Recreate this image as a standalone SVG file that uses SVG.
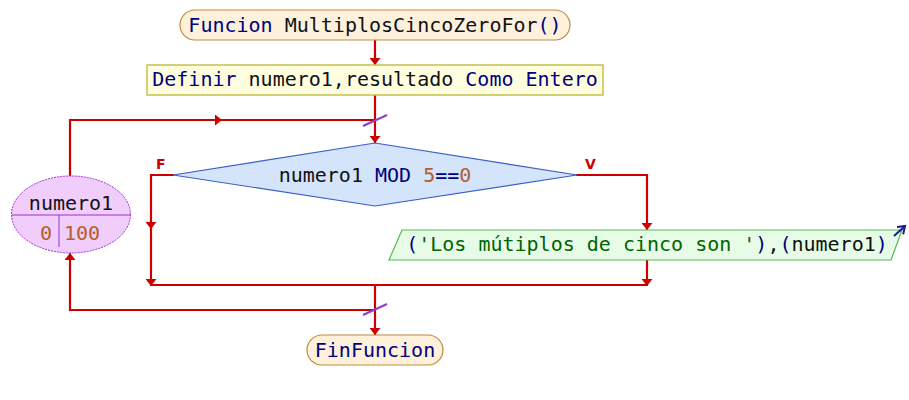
<svg xmlns="http://www.w3.org/2000/svg" width="909" height="400" viewBox="0 0 909 400">
<defs>
<marker id="ah" markerUnits="userSpaceOnUse" markerWidth="12" markerHeight="12" refX="7" refY="5.5" orient="auto">
<path d="M0,0 L7,5.5 L0,11 z" fill="#cc0000"/>
</marker>
<marker id="bh" markerUnits="userSpaceOnUse" markerWidth="10" markerHeight="12" refX="7" refY="5" orient="auto">
<path d="M0,0 L7,5 L0,10" fill="none" stroke="#1a1a8c" stroke-width="2"/>
</marker>
</defs>
<style>
text{font-family:"DejaVu Sans Mono","Liberation Mono",monospace;font-size:20px;fill:#111}
.kw{fill:#000080}
.num{fill:#b0602a}
.str{fill:#006400}
.lbl{font-family:"DejaVu Sans","Liberation Sans",sans-serif;font-size:14px;font-weight:bold;fill:#cc0000}
.c{fill:none;stroke:#cc0000;stroke-width:2.2}
.sl{stroke:#8a3fd0;stroke-width:2}
</style>
<rect width="909" height="400" fill="#fff"/>
<g id="connectors">
<path class="c" d="M375 40 V65" marker-end="url(#ah)"/>
<path class="c" d="M375 95 V143" marker-end="url(#ah)"/>
<path class="c" d="M70 176 V120 H222" marker-end="url(#ah)"/>
<path class="c" d="M214 120 H375"/>
<path class="c" d="M174 175 H151 V229" marker-end="url(#ah)"/>
<path class="c" d="M151 222 V286" marker-end="url(#ah)"/>
<path class="c" d="M576 175 H647 V230" marker-end="url(#ah)"/>
<path class="c" d="M647 260 V286" marker-end="url(#ah)"/>
<path class="c" d="M151 285 H647"/>
<path class="c" d="M375 285 V335" marker-end="url(#ah)"/>
<path class="c" d="M375 310 H70 V253" marker-end="url(#ah)"/>
<line class="sl" x1="363" y1="126" x2="387" y2="115"/>
<line class="sl" x1="363" y1="315" x2="387" y2="304"/>
<text class="lbl" x="156" y="169">F</text>
<text class="lbl" x="585" y="169">V</text>
</g>
<g id="start">
<rect x="180" y="10" width="390" height="30" rx="15" fill="#fdf1dc" stroke="#c08a40" stroke-width="1.2"/>
<text x="375" y="32" text-anchor="middle"><tspan class="kw">Funcion</tspan> MultiplosCincoZeroFor<tspan class="kw">()</tspan></text>
</g>
<g id="definir">
<rect x="147" y="65" width="456" height="30" fill="#ffffe0" stroke="#c8c050" stroke-width="1.5"/>
<text x="375" y="86" text-anchor="middle"><tspan class="kw">Definir</tspan> numero1,resultado <tspan class="kw">Como Entero</tspan></text>
</g>
<g id="loop">
<ellipse cx="71" cy="214.5" rx="59.5" ry="38.5" fill="#f0cdfa" stroke="#9933cc" stroke-width="1" stroke-dasharray="2,1"/>
<line x1="12" y1="215" x2="131" y2="215" stroke="#9933cc" stroke-width="1"/>
<line x1="59" y1="215" x2="59" y2="247" stroke="#9933cc" stroke-width="1"/>
<text x="71" y="210" text-anchor="middle">numero1</text>
<text x="52" y="240" text-anchor="end" class="num">0</text>
<text x="64" y="240" class="num">100</text>
</g>
<g id="decision">
<polygon points="375,143 577,175 375,206 173,175" fill="#d4e4fb" stroke="#3a5fc8" stroke-width="1.2"/>
<text x="375" y="182" text-anchor="middle">numero1 <tspan class="kw">MOD</tspan> <tspan class="num">5</tspan><tspan class="kw">==</tspan><tspan class="num">0</tspan></text>
</g>
<g id="output">
<polygon points="402,230 902,230 891,260 389,260" fill="#e6fce6" stroke="#55bb55" stroke-width="1.2"/>
<text x="647" y="251" text-anchor="middle"><tspan class="kw">(</tspan><tspan class="str">'Los mútiplos de cinco son '</tspan><tspan class="kw">)</tspan>,<tspan class="kw">(</tspan>numero1<tspan class="kw">)</tspan></text>
<line x1="894" y1="236" x2="905" y2="226" stroke="#1a1a8c" stroke-width="2" marker-end="url(#bh)"/>
</g>
<g id="end">
<rect x="307" y="335" width="136" height="30" rx="15" fill="#fdf1dc" stroke="#c08a40" stroke-width="1.2"/>
<text x="375" y="357" text-anchor="middle" class="kw">FinFuncion</text>
</g>
</svg>
